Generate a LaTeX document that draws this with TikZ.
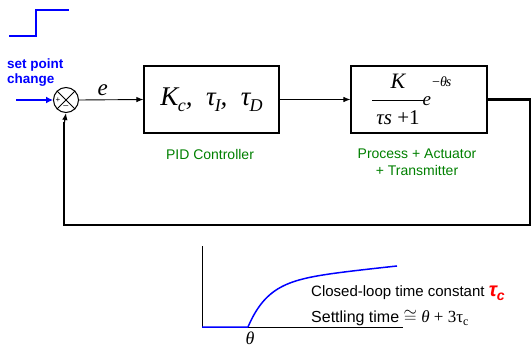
\documentclass[tikz,border=0pt]{standalone}
\usepackage{fontspec}
\setmainfont{Liberation Serif}
\setsansfont{Liberation Sans}
\usetikzlibrary{arrows.meta}
\definecolor{pblue}{RGB}{0,0,255}
\definecolor{pgreen}{RGB}{0,128,0}
\definecolor{pred}{RGB}{255,0,0}
\newcommand{\fs}[1]{\fontsize{#1}{#1}\selectfont}
\newcommand{\sbs}[2]{\raisebox{-6pt}{\fs{#1}#2}}
\begin{document}
\begin{tikzpicture}[x=1pt,y=-1pt,
  blk/.style={draw,line width=1.2pt,minimum width=135pt,minimum height=67pt,inner sep=0pt},
  arr/.style={-{Latex[length=7pt,width=5.5pt]}},
  lbl/.style={font=\sffamily\fontsize{14}{17.5}\selectfont,text=pgreen,align=center},
  tx/.style={font=\sffamily,anchor=base west,inner sep=0pt},
  mt/.style={inner sep=0pt,anchor=base}]
\useasboundingbox (0,0) rectangle (532,348);
% step
\draw[pblue,line width=1.5pt] (9,36) -- (36,36) -- (36,10) -- (69,10);
% set point change
\node[font=\sffamily\bfseries\fontsize{13.5}{14.5}\selectfont,text=pblue,align=left,anchor=base west,inner sep=0pt] (sp) at (7,83) {set point\\change};
% summing junction
\node[draw,circle,line width=1pt,minimum size=25pt,inner sep=0pt] (sum) at (66,100) {};
\draw[line width=0.8pt] (sum.north west) -- (sum.south east) (sum.north east) -- (sum.south west);
\node[font=\sffamily\fs{8},inner sep=0pt] (plus) at (58,100.5) {+};
\node[font=\sffamily\fs{9},inner sep=0pt] (minus) at (66,107.5) {--};
\coordinate (spin) at (16,100);
\draw[pblue,line width=2.4pt,-{Latex[length=7pt,width=7pt]}] (spin) -- (sum.west);
% blocks
\node[blk] (pid) at (211.5,99.5) {\fs{27}\itshape K\kern-0.5pt\sbs{18}{c},\ \ τ\sbs{18}{\kern-1pt I},\ \ τ\sbs{18}{\kern-1pt D}};
\node[blk,minimum width=136pt] (proc) at (419,99.5) {};
\node[mt,font=\fs{22}\itshape] (pk) at (398,88) {K};
\coordinate (barl) at (372,100.7);
\coordinate (barr) at (423.5,100.7);
\draw[line width=0.8pt] (barl) -- (barr);
\node[mt,font=\fs{21}] (pden) at (398,124) {\itshape τs\upshape\ +1};
\node[mt,font=\fs{19}\itshape,anchor=base west] (pe) at (422.5,105) {e};
\node[mt,font=\fs{14},anchor=base west] (pexp) at (432,86) {−\itshape θ\kern-1pt s};
\node[lbl] (pidl) at (210,154) {PID Controller};
\node[lbl] (procl) at (417,162) {Process + Actuator\\+ Transmitter};
\draw[arr,line width=0.9pt] (sum.east) -- node[pos=0.37,above=0pt,font=\fs{23}\itshape] (e) {e} (pid.west);
\draw[arr,line width=0.9pt] (pid.east) -- (proc.west);
\coordinate (r1) at (530,99.5);
\coordinate (r2) at (530,225);
\coordinate (r3) at (64,225);
\draw[line width=2.2pt] (proc.east) -- (r1) -- (r2) -- (r3) -- (64,122);
\draw[arr,line width=1.2pt] (64,125) -- (sum.south);
% response plot
\coordinate (ax0) at (202,327);
\coordinate (axt) at (202,246);
\coordinate (axr) at (403,327);
\coordinate (t0) at (248,327);
\draw[line width=1pt] (axt) -- (ax0) -- (axr);
\draw[pblue,line width=1.5pt] (ax0) -- (t0)
  plot[domain=0:149,samples=80,smooth] ({248+\x},{327-45*(1-exp(-\x/20))-0.1077*\x});
\node[font=\fs{18}\itshape,inner sep=0pt] (th) at (250,338.5) {θ};
\node[tx,font=\sffamily\fs{15}] (cl) at (311,296) {Closed-loop time constant \textcolor{pred}{\bfseries\itshape\fs{20}τ\raisebox{-4pt}{\fs{14}c}}};
\node[tx,font=\sffamily\fs{16}] (st) at (311,322) {Settling time {\rmfamily\fs{17}$\cong$ \itshape θ\upshape\ + 3τ\raisebox{-3pt}{\fs{12}c}}};
\end{tikzpicture}
\end{document}
